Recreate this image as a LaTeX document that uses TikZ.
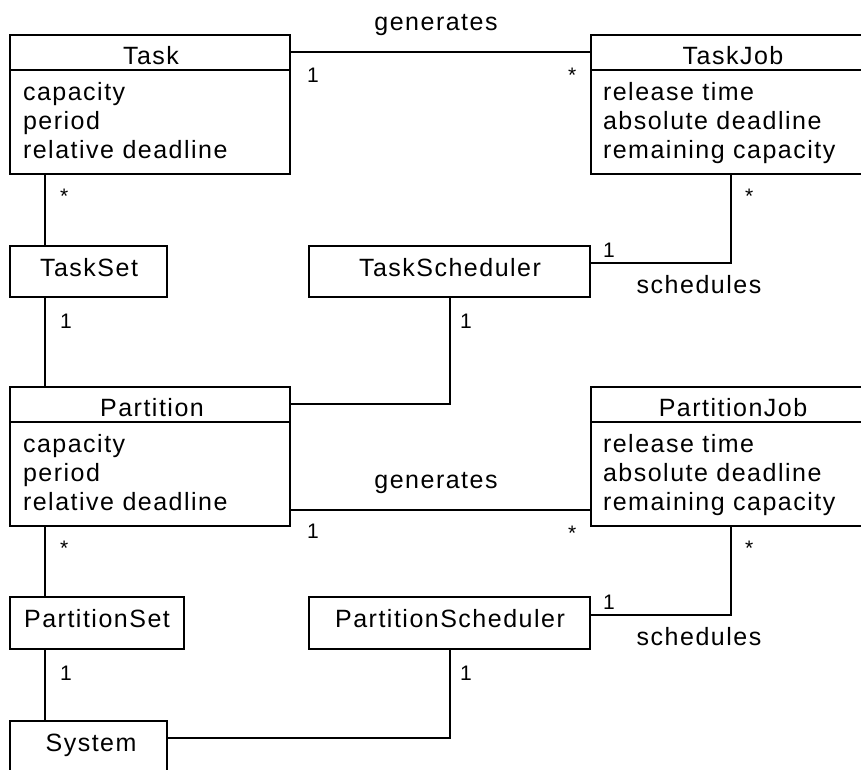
\documentclass[tikz,border=0pt]{standalone}
\usepackage{fontspec}
\setmainfont{Liberation Sans}[LetterSpace=6]
\begin{document}
\begin{tikzpicture}[x=1pt,y=-1pt,
  every node/.style={inner sep=0pt, outer sep=0pt},
  umlbox/.style={draw, line width=1.2pt, rectangle},
  clsname/.style={font=\fontsize{25}{30}\selectfont, anchor=base},
  attr/.style={font=\fontsize{25}{30}\selectfont, anchor=base west},
  mult/.style={font=\fontsize{21}{25}\selectfont, anchor=base west},
  assoc/.style={font=\fontsize{25}{30}\selectfont, anchor=base},
  link/.style={line width=1.2pt}]
\clip (0,0) rectangle (861,769);
\useasboundingbox (0,0) rectangle (861,769);

% ---------- class boxes ----------
\node[umlbox, minimum width=280pt, minimum height=139pt] (task)      at (150,104.5) {};
\node[umlbox, minimum width=284pt, minimum height=139pt] (taskjob)   at (733,104.5) {};
\node[umlbox, minimum width=157pt, minimum height=51pt]  (taskset)   at (88.5,271.5) {};
\node[umlbox, minimum width=281pt, minimum height=51pt]  (tasksched) at (449.5,271.5) {};
\node[umlbox, minimum width=280pt, minimum height=139pt] (partition) at (150,456.5) {};
\node[umlbox, minimum width=284pt, minimum height=139pt] (partjob)   at (733,456.5) {};
\node[umlbox, minimum width=174pt, minimum height=52pt]  (partset)   at (97,623) {};
\node[umlbox, minimum width=281pt, minimum height=52pt]  (partsched) at (449.5,623) {};
\node[umlbox, minimum width=157pt, minimum height=51pt]  (system)    at (88.5,746.5) {};

% compartment dividers
\draw[link] (task.west |- 0,70) -- (task.east |- 0,70);
\draw[link] (taskjob.west |- 0,70) -- (taskjob.east |- 0,70);
\draw[link] (partition.west |- 0,422) -- (partition.east |- 0,422);
\draw[link] (partjob.west |- 0,422) -- (partjob.east |- 0,422);

% ---------- class names ----------
\node[clsname] (taskname)      at (151,64)  {Task};
\node[clsname] (taskjobname)   at (733,64)  {TaskJob};
\node[clsname] (tasksetname)   at (89,276)  {TaskSet};
\node[clsname] (taskschedname) at (450,276) {TaskScheduler};
\node[clsname] (partname)      at (152,416) {Partition};
\node[clsname] (partjobname)   at (733,416) {PartitionJob};
\node[clsname] (partsetname)   at (97,627)  {PartitionSet};
\node[clsname] (partschedname) at (450,627) {PartitionScheduler};
\node[clsname] (systemname)    at (91,751)  {System};

% ---------- attributes ----------
\node[attr] (ta1) at (23,100) {capacity};
\node[attr] (ta2) at (23,129) {period};
\node[attr] (ta3) at (23,158) {relative deadline};
\node[attr] (ja1) at (603,100) {release time};
\node[attr] (ja2) at (603,129) {absolute deadline};
\node[attr] (ja3) at (603,158) {remaining capacity};
\node[attr] (pa1) at (23,452) {capacity};
\node[attr] (pa2) at (23,481) {period};
\node[attr] (pa3) at (23,510) {relative deadline};
\node[attr] (qa1) at (603,452) {release time};
\node[attr] (qa2) at (603,481) {absolute deadline};
\node[attr] (qa3) at (603,510) {remaining capacity};

% ---------- associations ----------
\draw[link] (task.east |- 0,52) -- (taskjob.west |- 0,52);
\draw[link] (task.south -| 45,0) -- (taskset.north -| 45,0);
\draw[link] (taskjob.south -| 731,0) |- (tasksched.east |- 0,263);
\draw[link] (taskset.south -| 45,0) -- (partition.north -| 45,0);
\draw[link] (tasksched.south -| 450,0) |- (partition.east |- 0,404);
\draw[link] (partition.east |- 0,510) -- (partjob.west |- 0,510);
\draw[link] (partition.south -| 45,0) -- (partset.north -| 45,0);
\draw[link] (partjob.south -| 731,0) |- (partsched.east |- 0,615);
\draw[link] (partset.south -| 45,0) -- (system.north -| 45,0);
\draw[link] (partsched.south -| 450,0) |- (system.east |- 0,738);

% association names
\node[assoc] (gen1)   at (436,30)  {generates};
\node[assoc] (sched1) at (699,293) {schedules};
\node[assoc] (gen2)   at (436,488) {generates};
\node[assoc] (sched2) at (699,645) {schedules};

% multiplicities
\node[mult] (m1)  at (307,82)  {1};
\node[mult] (m2)  at (568,82)  {*};
\node[mult] (m3)  at (60,203)  {*};
\node[mult] (m4)  at (745,203) {*};
\node[mult] (m5)  at (60,328)  {1};
\node[mult] (m6)  at (460,328) {1};
\node[mult] (m7)  at (603,257) {1};
\node[mult] (m8)  at (307,538) {1};
\node[mult] (m9)  at (568,540) {*};
\node[mult] (m10) at (60,555)  {*};
\node[mult] (m11) at (745,555) {*};
\node[mult] (m12) at (60,680)  {1};
\node[mult] (m13) at (460,680) {1};
\node[mult] (m14) at (603,609) {1};
\end{tikzpicture}
\end{document}
